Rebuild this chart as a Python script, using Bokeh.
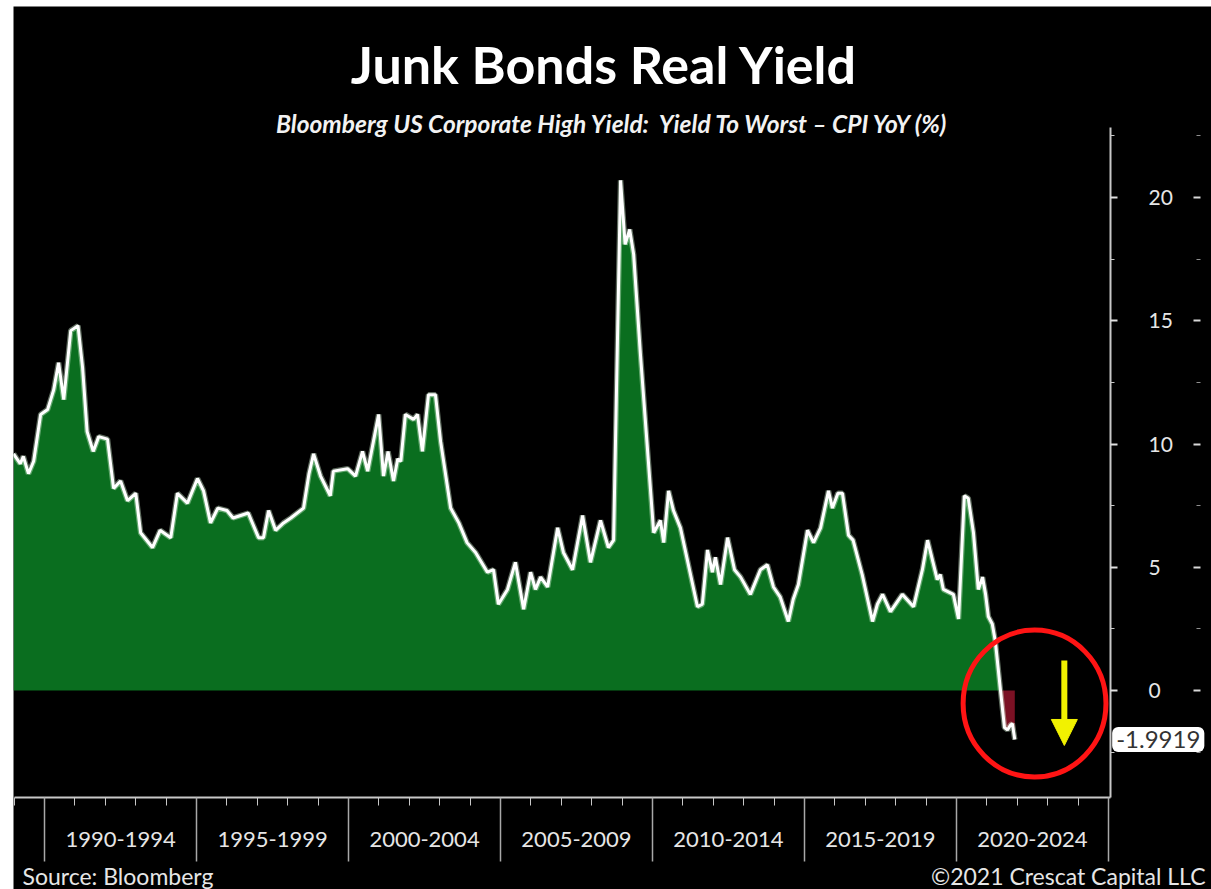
from bokeh.plotting import figure
from bokeh.models import (LinearAxis, FixedTicker, Range1d, Label, Arrow,
                          NormalHead, ColumnDataSource, Spacer)
from bokeh.layouts import row, column
from bokeh.embed import file_html
from bokeh.resources import INLINE

# ---- data (decimal year, real yield %) ----
dates = [1988.98, 1989.2, 1989.3, 1989.47, 1989.64, 1989.87, 1990.1, 1990.2, 1990.3, 1990.46,
         1990.63, 1990.86, 1991.1, 1991.25, 1991.4, 1991.6, 1991.78, 1992.07, 1992.27, 1992.5,
         1992.73, 1993.0, 1993.16, 1993.55, 1993.8, 1994.15, 1994.37, 1994.7, 1995.03, 1995.23,
         1995.46, 1995.7, 1996.0, 1996.2, 1996.7, 1997.04, 1997.2, 1997.37, 1997.6, 1997.86,
         1998.1, 1998.52, 1998.7, 1998.85, 1999.08, 1999.4, 1999.5, 1999.97, 2000.23, 2000.46,
         2000.63, 2000.99, 2001.15, 2001.3, 2001.48, 2001.62, 2001.72, 2001.87, 2002.14, 2002.27,
         2002.43, 2002.63, 2002.86, 2003.03, 2003.36, 2003.63, 2003.9, 2004.18, 2004.57, 2004.77,
         2004.93, 2005.23, 2005.49, 2005.76, 2005.99, 2006.15, 2006.32, 2006.55, 2006.88, 2007.07,
         2007.37, 2007.7, 2007.96, 2008.29, 2008.55, 2008.72, 2008.95, 2009.1, 2009.25, 2009.38,
         2009.6, 2010.04, 2010.26, 2010.37, 2010.53, 2010.69, 2010.92, 2011.48, 2011.64, 2011.81,
         2011.97, 2012.07, 2012.24, 2012.47, 2012.7, 2012.9, 2013.22, 2013.55, 2013.78, 2013.98,
         2014.2, 2014.47, 2014.63, 2014.8, 2015.1, 2015.3, 2015.53, 2015.79, 2015.92, 2016.1,
         2016.25, 2016.45, 2016.6, 2016.9, 2017.24, 2017.4, 2017.57, 2017.83, 2018.22, 2018.59,
         2018.88, 2019.05, 2019.37, 2019.47, 2019.57, 2019.9, 2020.07, 2020.26, 2020.39, 2020.56,
         2020.72, 2020.86, 2020.96, 2021.05, 2021.18, 2021.28, 2021.45, 2021.58, 2021.68, 2021.78,
         2021.84, 2021.92]
real_yield = [9.6, 9.2, 9.5, 8.8, 9.3, 11.2, 11.4, 11.8, 12.2, 13.3,
              11.8, 14.6, 14.8, 13.1, 10.5, 9.7, 10.3, 10.2, 8.2, 8.5,
              7.7, 8.0, 6.4, 5.8, 6.5, 6.2, 8.0, 7.6, 8.6, 8.1,
              6.8, 7.4, 7.3, 7.0, 7.2, 6.2, 6.2, 7.3, 6.5, 6.8,
              7.0, 7.4, 8.8, 9.6, 8.7, 7.9, 8.9, 9.0, 8.7, 9.7,
              8.9, 11.2, 8.7, 9.7, 8.5, 9.4, 9.3, 11.2, 11.0, 11.2,
              9.7, 12.0, 12.0, 10.1, 7.4, 6.8, 6.0, 5.6, 4.8, 4.9,
              3.5, 4.1, 5.2, 3.3, 4.8, 4.1, 4.6, 4.2, 6.6, 5.6,
              4.9, 7.1, 5.2, 6.9, 5.8, 6.1, 20.7, 18.1, 18.7, 17.7,
              13.7, 6.4, 6.9, 6.0, 8.1, 7.3, 6.6, 3.4, 3.5, 5.7,
              4.8, 5.4, 4.3, 6.2, 4.9, 4.6, 3.9, 4.9, 5.1, 4.2,
              3.8, 2.8, 3.7, 4.3, 6.5, 6.0, 6.6, 8.1, 7.4, 8.0,
              8.0, 6.3, 6.1, 4.7, 2.8, 3.5, 3.9, 3.2, 3.9, 3.4,
              4.9, 6.1, 4.5, 4.7, 4.1, 3.9, 2.9, 7.9, 7.8, 6.4,
              4.1, 4.6, 3.9, 3.0, 2.7, 2.0, 0.0, -1.5, -1.6, -1.4,
              -1.35, -1.99]
last_value = -1.9919

period_starts = [1990, 1995, 2000, 2005, 2010, 2015, 2020, 2025]
period_labels = ["1990-1994", "1995-1999", "2000-2004", "2005-2009",
                 "2010-2014", "2015-2019", "2020-2024"]
y_ticks = [0, 5, 10, 15, 20]
y_minor = [-2.5, 2.5, 7.5, 12.5, 17.5, 22.5]

# ---- layout constants (data units) ----
X_LEFT, X_AXIS = 1989.01, 2025.07      # plotted span; y axis sits at X_AXIS
Y_BOTTOM, Y_TOP = -4.34, 22.84         # plotted span; x axis sits at Y_BOTTOM
X_VIEW = (1988.977, 2028.392)          # whole canvas
Y_VIEW = (-8.073, 27.749)
X_MIRROR = 2028.03                     # mirrored tick column on the far right

circle_center = (2022.57, -0.53)
circle_size = (4.7, 5.96)
arrow_x, arrow_top, arrow_tip = 2023.55, 1.22, -2.23
tag_x = 2026.64

FONT = "Lato"
AX_COL = "#c8c8c8"
TXT_COL = "#e6e6e6"

pos = [max(v, 0) for v in real_yield]
neg = [min(v, 0) for v in real_yield]
src = ColumnDataSource(dict(x=dates, y=real_yield, pos=pos, neg=neg,
                            zero=[0] * len(dates)))

p = figure(width=1198, height=883, output_backend="svg", toolbar_location=None,
           x_axis_location=None, y_axis_location=None,
           x_range=Range1d(*X_VIEW), y_range=Range1d(*Y_VIEW),
           min_border_left=0, min_border_right=0, min_border_top=0,
           min_border_bottom=0)
p.background_fill_color = "black"
p.border_fill_color = "black"
p.outline_line_color = None
p.xgrid.visible = False
p.ygrid.visible = False
p.grid.visible = False

p.varea(x="x", y1="zero", y2="pos", source=src, fill_color="#0a6e1f")
p.varea(x="x", y1="neg", y2="zero", source=src, fill_color="#7b1124")
p.line(x="x", y="y", source=src, line_color="#cfeccf", line_width=5.5, line_alpha=0.45)
p.line(x="x", y="y", source=src, line_color="white", line_width=3)

p.ellipse(x=[circle_center[0]], y=[circle_center[1]], width=[circle_size[0]],
          height=[circle_size[1]], fill_color=None, line_color="#ff1414", line_width=5)
p.add_layout(Arrow(end=NormalHead(size=26, fill_color="#f2f200", line_color="#f2f200"),
                   x_start=arrow_x, y_start=arrow_top, x_end=arrow_x, y_end=arrow_tip,
                   line_color="#f2f200", line_width=6))

# right value axis
ya = LinearAxis(fixed_location=X_AXIS, bounds=(Y_BOTTOM, Y_TOP),
                ticker=FixedTicker(ticks=y_ticks, minor_ticks=y_minor))
ya.axis_line_color = AX_COL
ya.axis_line_width = 2
ya.major_tick_line_color = "#e0e0e0"
ya.major_tick_line_width = 2
ya.major_tick_out = 7
ya.major_tick_in = 0
ya.minor_tick_line_color = AX_COL
ya.minor_tick_out = 4
ya.minor_tick_in = 0
ya.major_label_standoff = 31
ya.major_label_text_color = TXT_COL
ya.major_label_text_font = FONT
ya.major_label_text_font_size = "21px"
p.add_layout(ya, "right")

# mirrored ticks at the far right
ym = LinearAxis(fixed_location=X_MIRROR, bounds=(Y_BOTTOM, Y_TOP),
                ticker=FixedTicker(ticks=y_ticks, minor_ticks=y_minor))
ym.axis_line_color = None
ym.major_tick_line_color = "#d8d8d8"
ym.major_tick_line_width = 2
ym.major_tick_in = 7
ym.major_tick_out = 0
ym.minor_tick_line_color = "#909090"
ym.minor_tick_in = 4
ym.minor_tick_out = 0
ym.major_label_text_font_size = "0px"
ym.major_label_overrides = {t: "" for t in y_ticks}
p.add_layout(ym, "right")

# bottom axis with period labels
mids = [(a + b) / 2 for a, b in zip(period_starts[:-1], period_starts[1:])]
xa = LinearAxis(fixed_location=Y_BOTTOM, bounds=(X_LEFT, X_AXIS),
                ticker=FixedTicker(ticks=mids, minor_ticks=list(range(1989, 2026))))
xa.major_label_overrides = {m: lab for m, lab in zip(mids, period_labels)}
xa.axis_line_color = AX_COL
xa.axis_line_width = 2
xa.major_tick_out = 0
xa.major_tick_in = 0
xa.minor_tick_line_color = AX_COL
xa.minor_tick_out = 8
xa.minor_tick_in = 0
xa.major_label_standoff = 27
xa.major_label_text_color = TXT_COL
xa.major_label_text_font = FONT
xa.major_label_text_font_size = "22px"
p.add_layout(xa, "below")

# period separators
xb = LinearAxis(fixed_location=Y_BOTTOM, bounds=(X_LEFT, X_AXIS),
                ticker=FixedTicker(ticks=period_starts, minor_ticks=[]))
xb.major_label_overrides = {t: "" for t in period_starts}
xb.major_label_text_font_size = "0px"
xb.axis_line_color = None
xb.major_tick_line_color = "#a8a8a8"
xb.major_tick_line_width = 1.5
xb.major_tick_in = 0
xb.major_tick_out = 64
xb.minor_tick_line_color = None
p.add_layout(xb, "below")

# texts (screen units from the canvas bottom-left)
p.add_layout(Label(x=591, y=826, x_units="screen", y_units="screen",
                   text="Junk Bonds Real Yield", text_align="center", text_baseline="middle",
                   text_color="white", text_font=FONT, text_font_style="bold",
                   text_font_size="52px"))
p.add_layout(Label(x=600, y=766, x_units="screen", y_units="screen",
                   text="Bloomberg US Corporate High Yield:\u00a0 Yield To Worst \u2013 CPI YoY (%)",
                   text_align="center", text_baseline="middle",
                   text_color="#f2f2f2", text_font=FONT, text_font_style="bold italic",
                   text_font_size="24.5px"))
p.add_layout(Label(x=9, y=14, x_units="screen", y_units="screen",
                   text="Source: Bloomberg", text_align="left", text_baseline="middle",
                   text_color=TXT_COL, text_font=FONT, text_font_size="23px"))
p.add_layout(Label(x=1192, y=14, x_units="screen", y_units="screen",
                   text="\u00a92021 Crescat Capital LLC", text_align="right",
                   text_baseline="middle", text_color=TXT_COL, text_font=FONT,
                   text_font_size="23px"))
p.add_layout(Label(x=tag_x, y=last_value, text=f"{last_value:.4f}",
                   text_align="center", text_baseline="middle", text_color="#333333",
                   text_font=FONT, text_font_size="24px", background_fill_color="white",
                   padding=4, border_radius=6))

layout = column(Spacer(height=6, width=1211),
                row(Spacer(width=13, height=883), p))
open("out.html", "w").write(file_html(layout, INLINE))
